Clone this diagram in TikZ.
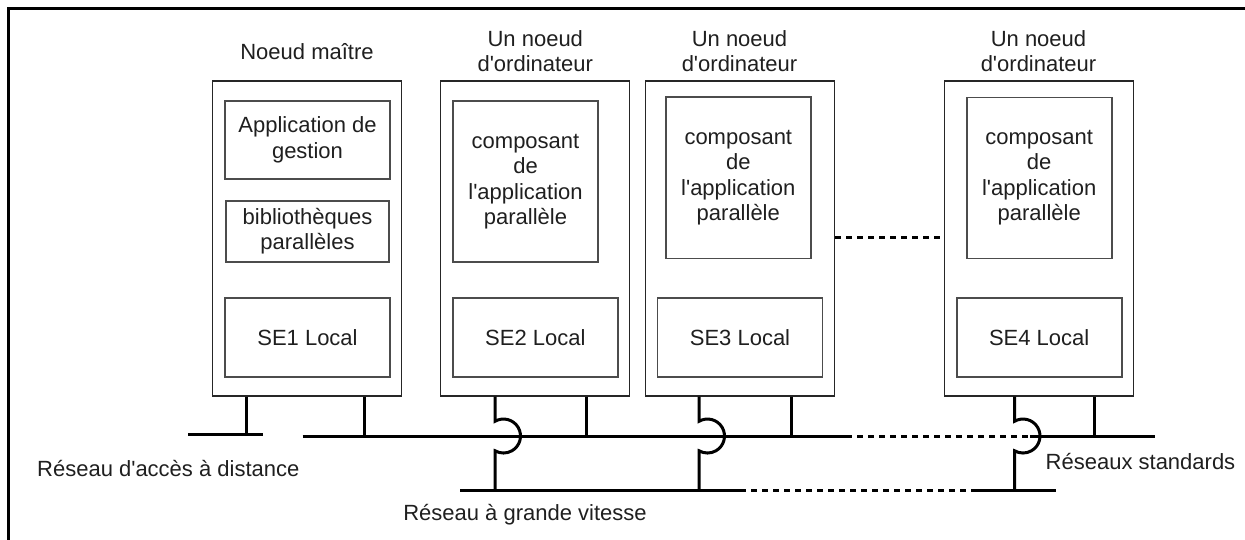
\documentclass[tikz,border=0pt]{standalone}
\usepackage{fontspec}
\setmainfont{Liberation Sans}
\newcommand{\apos}{\textquotesingle}
\begin{document}
\begin{tikzpicture}[x=1pt,y=-1pt,
  every node/.style={font=\fontsize{22}{25.5}\selectfont, text=black!88, align=center, inner sep=0pt},
  host/.style={draw=black!85, line width=1.3pt, minimum width=189pt, minimum height=315pt},
  part/.style={draw=black!70, line width=1.6pt},
  osbox/.style={part, minimum width=165pt, minimum height=79pt},
  compbox/.style={part, minimum width=145pt, minimum height=161pt},
  bus/.style={line width=3pt, black},
  far/.style={line width=3pt, black, dash pattern=on 6pt off 5pt}
]
\useasboundingbox (0,0) rectangle (1245,540);

% frame
\draw[line width=3pt] (8,540) -- (8,9) -- (1245,9);

% master node
\node[host] (n1) at (307.2,238.5) {};
\node[part, minimum width=165pt, minimum height=78pt] (app) at (307.5,140) {Application de\\gestion};
\node[part, minimum width=163pt, minimum height=61pt] (lib) at (307.5,231.3) {bibliothèques\\parallèles};
\node[osbox] (os1) at (307.5,337.2) {SE1 Local};
\node[anchor=base] (l1) at (307,59.5) {Noeud maître};

% compute nodes
\node[host] (n2) at (535.3,238.5) {};
\node[compbox] (c2) at (525.5,181.5) {composant\\de\\l\apos application\\parallèle};
\node[osbox] (os2) at (535.3,337.2) {SE2 Local};
\node[anchor=north] (l2) at (535.3,30) {Un noeud\\d\apos ordinateur};

\node[host] (n3) at (740.3,238.5) {};
\node[compbox] (c3) at (738.3,177.8) {composant\\de\\l\apos application\\parallèle};
\node[osbox] (os3) at (740,337.2) {SE3 Local};
\node[anchor=north] (l3) at (739.5,30) {Un noeud\\d\apos ordinateur};

\node[host] (n4) at (1038.8,238.5) {};
\node[compbox] (c4) at (1039.2,177.9) {composant\\de\\l\apos application\\parallèle};
\node[osbox] (os4) at (1039.2,337.2) {SE4 Local};
\node[anchor=north] (l4) at (1038.5,30) {Un noeud\\d\apos ordinateur};

% link between nodes 3 and 4
\coordinate (lk) at (0,237.6);
\draw[far] (n3.east |- lk) -- (n4.west |- lk);

% networks
\coordinate (rL) at (188.3,434);
\coordinate (rR) at (263.3,434);
\draw[bus] (rL) -- (rR);

\coordinate (sL) at (302.7,436);
\coordinate (sA) at (846,436);
\coordinate (sB) at (1030,436);
\coordinate (sR) at (1155,436);
\draw[bus] (sL) -- (sA);
\draw[far] (sA) -- (sB);
\draw[bus] (sB) -- (sR);

\coordinate (hL) at (460,490);
\coordinate (hA) at (740,490);
\coordinate (hB) at (975,490);
\coordinate (hR) at (1056,490);
\draw[bus] (hL) -- (hA);
\draw[far] (hA) -- (hB);
\draw[bus] (hB) -- (hR);

% taps
\coordinate (t1a) at (246,434);
\coordinate (t1b) at (364,436);
\coordinate (t2b) at (586.7,436);
\coordinate (t3b) at (791,436);
\coordinate (t4b) at (1094.3,436);
\draw[bus] (n1.south -| t1a) -- (t1a);
\draw[bus] (n1.south -| t1b) -- (t1b);
\draw[bus] (n2.south -| t2b) -- (t2b);
\draw[bus] (n3.south -| t3b) -- (t3b);
\draw[bus] (n4.south -| t4b) -- (t4b);

% taps jumping over the standard network
\coordinate (j2) at (495,421.3);
\coordinate (j3) at (699,421.3);
\coordinate (j4) at (1014.5,421.3);
\draw[bus] (n2.south -| j2) -- (j2) arc[start angle=120, end angle=-120, radius=17pt] -- (j2 |- hL);
\draw[bus] (n3.south -| j3) -- (j3) arc[start angle=120, end angle=-120, radius=17pt] -- (j3 |- hL);
\draw[bus] (n4.south -| j4) -- (j4) arc[start angle=120, end angle=-120, radius=17pt] -- (j4 |- hL);

% network names
\node[anchor=base] (rn) at (168.3,476) {Réseau d\apos accès à distance};
\node[anchor=base] (sn) at (1140.5,469.3) {Réseaux standards};
\node[anchor=base] (hn) at (525,520) {Réseau à grande vitesse};
\end{tikzpicture}
\end{document}
